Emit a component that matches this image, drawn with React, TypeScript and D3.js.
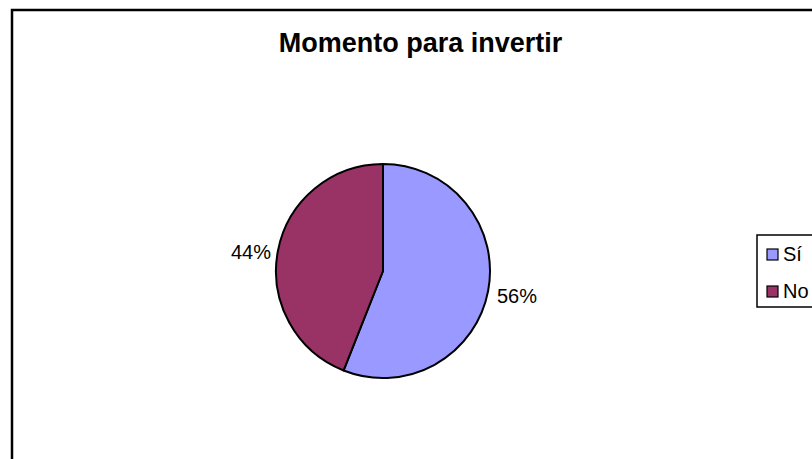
import React from "react";
import * as d3 from "d3";

const title = "Momento para invertir";
const categories = ["Sí", "No"];
const values = [56, 44];
const colors = ["#9999FF", "#993366"];

export default function App() {
  const W = 812, H = 459;
  const cx = 383, cy = 271, r = 107;
  const pie = d3.pie<number>().sort(null).value((d) => d)(values);
  const arc = d3.arc<d3.PieArcDatum<number>>().innerRadius(0).outerRadius(r);
  const total = d3.sum(values);
  const fmt = (v: number) => `${Math.round((v / total) * 100)}%`;
  return (
    <svg width={W} height={H} style={{ position: "absolute", left: 0, top: 0 }} fontFamily="'Liberation Sans', Arial, sans-serif">
      <rect x={0} y={0} width={W} height={H} fill="#fff" />
      <rect x={12} y={10} width={W + 20} height={H + 20} fill="#fff" stroke="#000" strokeWidth={2.5} />
      <text x={420.5} y={52} textAnchor="middle" fontSize={27} fontWeight="bold">{title}</text>
      <g transform={`translate(${cx},${cy})`}>
        {pie.map((p, i) => (
          <path key={i} d={arc(p) || ""} fill={colors[i]} stroke="#000" strokeWidth={2} strokeLinejoin="round" />
        ))}
      </g>
      {pie.map((p, i) => {
        const mid = (p.startAngle + p.endAngle) / 2;
        const right = Math.sin(mid) > 0;
        const x = i === 0 ? 497 : 271;
        const y = i === 0 ? 303 : 259;
        return (
          <text key={i} x={x} y={y} textAnchor={right ? "start" : "end"} fontSize={20}>{fmt(p.data)}</text>
        );
      })}
      <rect x={757} y={235} width={80} height={72} fill="#fff" stroke="#000" strokeWidth={1.5} />
      {categories.map((c, i) => (
        <g key={c} transform={`translate(767,${249 + i * 37})`}>
          <rect x={0} y={0} width={11} height={11} fill={colors[i]} stroke="#000" strokeWidth={1.2} />
          <text x={16} y={12} fontSize={20}>{c}</text>
        </g>
      ))}
    </svg>
  );
}
